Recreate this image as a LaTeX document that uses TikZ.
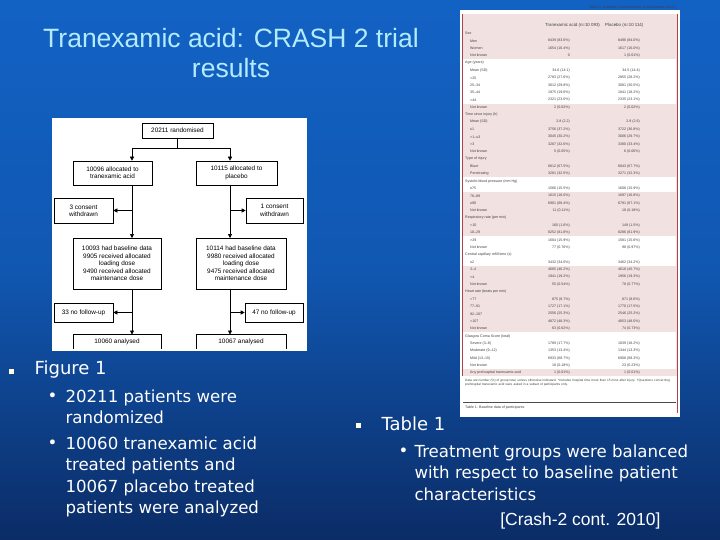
\documentclass[tikz,border=0pt]{standalone}
\usepackage{fontspec}
\setmainfont{Liberation Sans}
\newfontfamily\verd{DejaVu Sans}
\usetikzlibrary{arrows.meta}
\definecolor{slidetop}{HTML}{1262C4}
\definecolor{slidebot}{HTML}{0B2C66}
\definecolor{ttl}{HTML}{B4ECFF}
\definecolor{pinkb}{HTML}{F2E1E1}
\definecolor{redl}{HTML}{B0404A}
\begin{document}
\begin{tikzpicture}[x=1pt,y=-1pt,
  box/.style={draw=black,line width=0.6pt,fill=white,inner sep=1pt,font=\fontsize{6.4}{7.4}\selectfont,align=center},
  arr/.style={line width=0.6pt,-{Triangle[length=4pt,width=4pt]}},
  ln/.style={line width=0.6pt},
  ttlf/.style={text=ttl,font=\fontsize{26.5}{30}\selectfont,align=center},
  body/.style={text=white,anchor=west,font=\verd\fontsize{18}{21}\selectfont},
  bul/.style={fill=white!90!yellow,minimum size=5pt,inner sep=0pt},
  sub/.style={text=white,font=\verd\fontsize{16.6}{21.5}\selectfont},
  tr/.style={font=\fontsize{3.6}{4}\selectfont,text=black!75,inner sep=0pt},
  trl/.style={tr,anchor=west},
  trr/.style={tr,anchor=east}]
\useasboundingbox (0,0) rectangle (720,540);
\shade[top color=slidetop,bottom color=slidebot,middle color=slidetop!80!slidebot] (0,0) rectangle (720,540);
% title
\node[ttlf] (title) at (231,53) {Tranexamic acid: CRASH 2 trial\\results};
% flowchart image
\fill[white] (52,118) rectangle (307,350);
\node[box,minimum width=71pt,minimum height=15pt] (top) at (177.5,130.5) {20211 randomised};
\node[box,minimum width=79pt,minimum height=24pt] (la) at (112.5,173) {10096 allocated to\\tranexamic acid};
\node[box,minimum width=81pt,minimum height=24pt] (ra) at (236.5,173) {10115 allocated to\\placebo};
\node[box,minimum width=59pt,minimum height=25pt] (lc) at (83.5,210.5) {3 consent\\withdrawn};
\node[box,minimum width=57pt,minimum height=25pt] (rc) at (274.5,210.5) {1 consent\\withdrawn};
\node[box,minimum width=88pt,minimum height=51pt] (lb) at (117,263.5) {10093 had baseline data\\9905 received allocated\\loading dose\\9490 received allocated\\maintenance dose};
\node[box,minimum width=90pt,minimum height=51pt] (rb) at (241,263.5) {10114 had baseline data\\9980 received allocated\\loading dose\\9475 received allocated\\maintenance dose};
\node[box,minimum width=59pt,minimum height=19pt] (lf) at (83.5,312.5) {33 no follow-up};
\node[box,minimum width=58pt,minimum height=19pt] (rf) at (274,312.5) {47 no follow-up};
\node[box,minimum width=88pt,minimum height=15pt] (ln) at (117,342) {10060 analysed};
\node[box,minimum width=90pt,minimum height=15pt] (rn) at (241,342) {10067 analysed};
\coordinate (j) at (177.5,148);
\coordinate (jl) at (132,148);
\coordinate (jr) at (230,148);
\draw[ln] (top.south) -- (j);
\draw[ln] (jl) -- (jr);
\draw[arr] (jl) -- (jl|-la.north);
\draw[arr] (jr) -- (jr|-ra.north);
\draw[arr] (132,185) -- (132,238);
\draw[arr] (230,185) -- (230,238);
\draw[arr] (132,210.5) -- (lc.east);
\draw[arr] (230,210.5) -- (rc.west);
\draw[arr] (132,289) -- (132,334.5);
\draw[arr] (230,289) -- (230,334.5);
\draw[arr] (132,312.5) -- (lf.east);
\draw[arr] (230,312.5) -- (rf.west);
\fill[white] (52,349) rectangle (307,351);
% table image
\fill[white] (460,10) rectangle (680,417);
\fill[pinkb] (462,14) rectangle (677,413);
\draw[redl,line width=0.8pt] (462,14) -- (462,413) (677,14) -- (677,413);
\node[tr,anchor=east] (cap) at (676,8) {Table 1: Baseline characteristics of participants (cont.)};
\node[trl,font=\fontsize{4.4}{5}\selectfont] (h1) at (545,25) {Tranexamic acid (n=10 093)};
\node[trl,font=\fontsize{4.4}{5}\selectfont] (h2) at (605,25) {Placebo (n=10 114)};
\foreach \a/\b in {4/10,20/22,28/32,41/46}{
  \fill[white] (463,{33.5+7.38*\a-3.7}) rectangle (676,{33.5+7.38*\b-3.7});}
\foreach \l/\u/\v [count=\i from 0] in {
Sex//, Men/8439 (83.6\%)/8496 (84.0\%), Women/1654 (16.4\%)/1617 (16.0\%), Not known/0/1 (0.01\%),
Age (years)//, Mean (SD)/34.6 (14.1)/34.5 (14.4), <25/2783 (27.6\%)/2855 (28.2\%), 25--34/3012 (29.8\%)/3081 (30.5\%), 35--44/1975 (19.6\%)/1841 (18.2\%), >44/2321 (23.0\%)/2335 (23.1\%), Not known/2 (0.02\%)/2 (0.02\%),
Time since injury (h)//, Mean (SD)/2.8 (2.2)/2.9 (2.6), ≤1/3756 (37.2\%)/3722 (36.8\%), >1--≤3/3045 (30.2\%)/3006 (29.7\%), >3/3287 (32.6\%)/3380 (33.4\%), Not known/5 (0.05\%)/6 (0.06\%),
Type of injury//, Blunt/6812 (67.5\%)/6843 (67.7\%), Penetrating/3281 (32.5\%)/3271 (32.3\%),
Systolic blood pressure (mm Hg)//, ≤75/1566 (15.5\%)/1608 (15.9\%), 76--89/1615 (16.0\%)/1697 (16.8\%), ≥90/6901 (68.4\%)/6791 (67.1\%), Not known/11 (0.11\%)/18 (0.18\%),
Respiratory rate (per min)//, <10/160 (1.6\%)/149 (1.5\%), 10--29/8252 (81.8\%)/8286 (81.9\%), >29/1604 (15.9\%)/1581 (15.6\%), Not known/77 (0.76\%)/98 (0.97\%),
Central capillary refill time (s)//, ≤2/3432 (34.0\%)/3462 (34.2\%), 3--4/4665 (46.2\%)/4618 (45.7\%), >4/1941 (19.2\%)/1956 (19.3\%), Not known/55 (0.54\%)/78 (0.77\%),
Heart rate (beats per min)//, <77/875 (8.7\%)/871 (8.6\%), 77--91/1727 (17.1\%)/1770 (17.5\%), 92--107/2556 (25.3\%)/2546 (25.2\%), >107/4872 (48.3\%)/4853 (48.0\%), Not known/63 (0.62\%)/74 (0.73\%),
Glasgow Coma Score (total)//, Severe (3--8)/1789 (17.7\%)/1839 (18.2\%), Moderate (9--12)/1353 (13.4\%)/1344 (13.3\%), Mild (13--15)/6933 (68.7\%)/6908 (68.3\%), Not known/18 (0.18\%)/23 (0.23\%),
Any prehospital tranexamic acid/1 (0.01\%)/1 (0.01\%)}{
  \ifx\u\empty
    \node[trl] (r\i) at (465,{33.5+7.38*\i}) {\l};
  \else
    \node[trl] (r\i) at (470,{33.5+7.38*\i}) {\l};
    \node[trr] (a\i) at (570,{33.5+7.38*\i}) {\u};
    \node[trr] (b\i) at (640,{33.5+7.38*\i}) {\v};
  \fi}
\fill[white] (462,376) rectangle (677,413);
\node[tr,anchor=north west,text width=205pt,font=\fontsize{3.2}{4}\selectfont] (fn) at (465,379) {Data are number (\%) of group total, unless otherwise indicated. *Includes hospital time more than 15 mins after injury. †Questions concerning prehospital tranexamic acid were asked in a subset of participants only.};
\draw[black!70,line width=0.6pt] (463,402) -- (676,402);
\node[trl,font=\fontsize{3.6}{4}\selectfont] (tc) at (465,408) {Table 1: Baseline data of participants};
% text
\node[bul] (b1) at (11,371) {};
\node[body] (fig) at (31,370) {Figure 1};
\node[sub,anchor=west] (d1) at (44,397) {•};
\node[sub,anchor=north west,align=left] (t1) at (62,386) {20211 patients were\\randomized};
\node[sub,anchor=west] (d2) at (44,444) {•};
\node[sub,anchor=north west,align=left] (t2) at (62,433) {10060 tranexamic acid\\treated patients and\\10067 placebo treated\\patients were analyzed};
\node[bul] (b2) at (358,425) {};
\node[body] (tab) at (378,424) {Table 1};
\node[sub,anchor=west] (d3) at (395,452) {•};
\node[sub,anchor=north west,align=left] (t3) at (411,441) {Treatment groups were balanced\\with respect to baseline patient\\characteristics};
\node[text=white,font=\fontsize{17.5}{19}\selectfont,anchor=east] (ref) at (664,521) {[Crash-2 cont. 2010]};
\end{tikzpicture}
\end{document}
